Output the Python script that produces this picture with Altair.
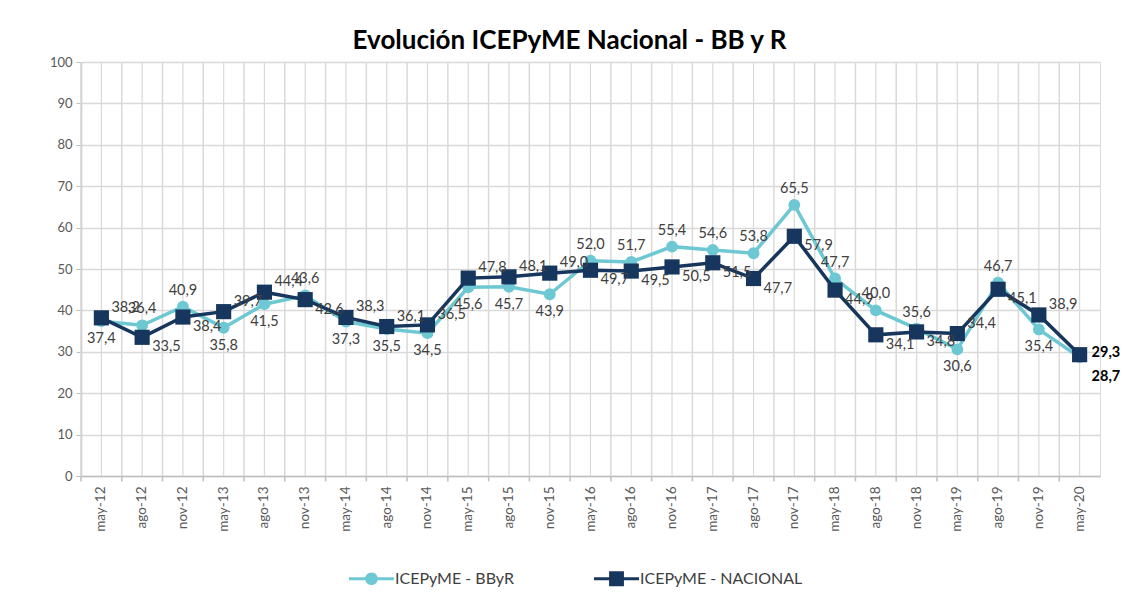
import altair as alt
import pandas as pd

categories = ["may-12", "ago-12", "nov-12", "may-13", "ago-13", "nov-13", "may-14", "ago-14",
              "nov-14", "may-15", "ago-15", "nov-15", "may-16", "ago-16", "nov-16", "may-17",
              "ago-17", "nov-17", "may-18", "ago-18", "nov-18", "may-19", "ago-19", "nov-19",
              "may-20"]
bbyr = [37.4, 36.4, 40.9, 35.8, 41.5, 43.6, 37.3, 35.5, 34.5, 45.6, 45.7, 43.9, 52.0, 51.7,
        55.4, 54.6, 53.8, 65.5, 47.7, 40.0, 35.6, 30.6, 46.7, 35.4, 28.7]
nacional = [38.2, 33.5, 38.4, 39.7, 44.4, 42.6, 38.3, 36.1, 36.5, 47.8, 48.1, 49.0, 49.7, 49.5,
            50.5, 51.5, 47.7, 57.9, 44.9, 34.1, 34.8, 34.4, 45.1, 38.9, 29.3]
series_names = ["ICEPyME - BByR", "ICEPyME - NACIONAL"]
y_ticks = [0, 10, 20, 30, 40, 50, 60, 70, 80, 90, 100]
title_text = "Evolución ICEPyME Nacional - BB  y R"

df = pd.DataFrame({"cat": categories, "bbyr": bbyr, "nac": nacional,
                   "idx": list(range(len(categories)))})
last = len(categories) - 1

LIGHT = "#6dc8d3"
NAVY = "#17365d"
FONT = "Lato"
W, H = 1019, 414

xscale = alt.Scale(domain=categories, paddingInner=0, paddingOuter=0)
xaxis = alt.Axis(title=None, labelAngle=-90, ticks=False, grid=False, domain=True,
                 domainColor="#bfbfbf", domainWidth=1.5, labelFontSize=13.5,
                 labelColor="#595959", labelFont=FONT, labelPadding=10)
yscale = alt.Scale(domain=[0, 100], nice=False)
yaxis = alt.Axis(title=None, values=y_ticks, grid=True, gridColor="#d9d9d9", gridWidth=1.5,
                 tickSize=5, tickColor="#bfbfbf", domainColor="#bfbfbf", domainWidth=1.5,
                 labelFontSize=13, labelColor="#595959", labelFont=FONT, labelPadding=4)


def X(bp=0.5):
    return alt.X("cat:N", sort=categories, scale=xscale, axis=xaxis, bandPosition=bp)


def Y(field):
    return alt.Y(field, type="quantitative", scale=yscale, axis=yaxis)


def Yd(v):
    return alt.Y(datum=v, type="quantitative", scale=yscale, axis=yaxis)


base = alt.Chart(df)

grid_bound = base.mark_rule(color="#d9d9d9", strokeWidth=1.5).encode(
    x=X(0), y=Yd(0), y2=alt.Y2(datum=100))
grid_center = base.mark_rule(color="#d9d9d9", strokeWidth=1.2).encode(
    x=X(0.5), y=Yd(0), y2=alt.Y2(datum=100))
xticks = base.mark_rule(color="#bfbfbf", strokeWidth=1.5).encode(
    x=X(0), y=Yd(0), y2=alt.Y2(datum=-1.3))

line_b = base.mark_line(color=LIGHT, strokeWidth=3.5).encode(x=X(), y=Y("bbyr"))
pts_b = base.mark_point(color=LIGHT, filled=True, opacity=1, size=140, shape="circle").encode(
    x=X(), y=Y("bbyr"))
line_n = base.mark_line(color=NAVY, strokeWidth=3.5).encode(x=X(), y=Y("nac"))
pts_n = base.mark_point(color=NAVY, filled=True, opacity=1, size=230, shape="square").encode(
    x=X(), y=Y("nac"))

lab = base.transform_calculate(
    lb="replace(format(datum.bbyr, '.1f'), '.', ',')",
    ln="replace(format(datum.nac, '.1f'), '.', ',')",
)
tstyle = dict(fontSize=14.5, color="#404040", font=FONT)

lb_up = lab.transform_filter(f"datum.idx < {last} && datum.bbyr >= datum.nac").mark_text(
    dy=-16, **tstyle).encode(x=X(), y=Y("bbyr"), text="lb:N")
lb_dn = lab.transform_filter(f"datum.idx < {last} && datum.bbyr < datum.nac").mark_text(
    dy=18, **tstyle).encode(x=X(), y=Y("bbyr"), text="lb:N")
ln_up = lab.transform_filter(f"datum.idx < {last} && datum.nac >= datum.bbyr").mark_text(
    dx=10, dy=-10, align="left", **tstyle).encode(x=X(), y=Y("nac"), text="ln:N")
ln_dn = lab.transform_filter(f"datum.idx < {last} && datum.nac < datum.bbyr").mark_text(
    dx=10, dy=10, align="left", **tstyle).encode(x=X(), y=Y("nac"), text="ln:N")
ln_last = lab.transform_filter(f"datum.idx == {last}").mark_text(
    dx=12, dy=-2, align="left", fontSize=14.5, fontWeight="bold", color="#000000", font=FONT
).encode(x=X(), y=Y("nac"), text="ln:N")
lb_last = lab.transform_filter(f"datum.idx == {last}").mark_text(
    dx=12, dy=20, align="left", fontSize=14.5, fontWeight="bold", color="#000000", font=FONT
).encode(x=X(), y=Y("bbyr"), text="lb:N")

path_circle = ("M-1,-0.07L1,-0.07L1,0.07L-1,0.07Z"
               "M-0.28,0A0.28,0.28 0 1,1 0.28,0A0.28,0.28 0 1,1 -0.28,0Z")
path_square = ("M-1,-0.07L1,-0.07L1,0.07L-1,0.07Z"
               "M-0.33,-0.33L0.33,-0.33L0.33,0.33L-0.33,0.33Z")
leg = alt.Legend(title=None, orient="none", legendX=268, legendY=494, direction="horizontal",
                 symbolSize=2025, symbolOpacity=1, symbolStrokeWidth=0, labelFontSize=16,
                 labelColor="#404040", labelFont=FONT, columnPadding=80, labelOffset=1,
                 labelLimit=400)
legend_layer = alt.Chart(pd.DataFrame({"series": series_names})).mark_point(
    filled=True, opacity=0).encode(
    x=alt.X(datum=categories[0], type="nominal", scale=xscale, axis=xaxis),
    y=Yd(0),
    color=alt.Color("series:N", scale=alt.Scale(domain=series_names, range=[LIGHT, NAVY]),
                    legend=leg),
    shape=alt.Shape("series:N", scale=alt.Scale(domain=series_names,
                                                range=[path_circle, path_square]),
                    legend=leg),
)

chart = alt.layer(
    grid_bound, grid_center, xticks, line_b, pts_b, line_n, pts_n,
    lb_up, lb_dn, ln_up, ln_dn, ln_last, lb_last, legend_layer
).properties(
    width=W, height=H,
    autosize=alt.AutoSizeParams(type="none"),
    padding={"left": 73, "top": 54, "right": 24, "bottom": 113},
    title=alt.TitleParams(title_text, fontSize=26, font=FONT, fontWeight="bold",
                          color="#000000", anchor="middle", dx=-21, offset=2),
).configure_view(fill="#f2f2f2", stroke="#d9d9d9", strokeWidth=1.5
).configure(background="#ffffff")

chart.save("out.html", embed_options={"renderer": "svg", "actions": False})
